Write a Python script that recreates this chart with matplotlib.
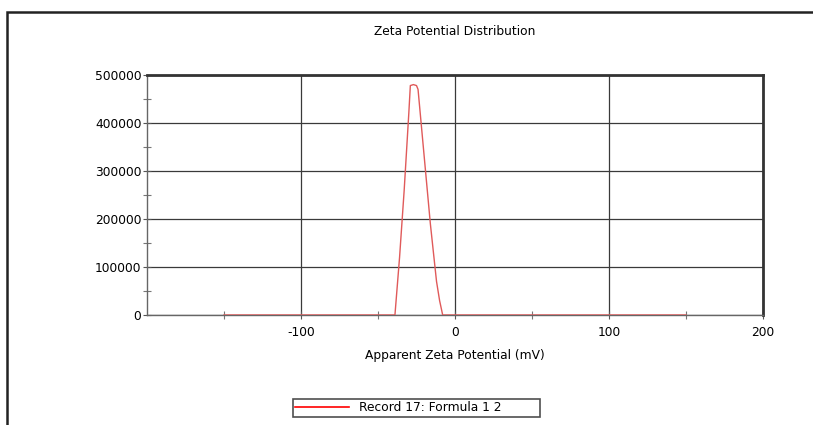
import matplotlib
matplotlib.use('Agg')
import matplotlib.pyplot as plt
from matplotlib.patches import Rectangle

plt.rcParams['font.family'] = ['DejaVu Sans']

# apparent zeta potential (mV) vs intensity
zeta = [-150, -39, -36, -33, -30, -29, -27, -25, -24, -20, -16, -12, -10, -8, 150]
counts = [0, 0, 120000, 260000, 420000, 478000, 480000, 478000, 470000,
          330000, 190000, 70000, 30000, 0, 0]

x_ticks = [-100, 0, 100, 200]
x_minor = [-150, -50, 50, 150]
y_ticks = [0, 100000, 200000, 300000, 400000, 500000]
y_minor = [50000, 150000, 250000, 350000, 450000]

fs = 8.8

fig = plt.figure(figsize=(8.13, 4.25), dpi=100)
ax = fig.add_axes([147 / 813, 1 - 315 / 425, (763 - 147) / 813, (315 - 75) / 425])

ax.plot(zeta, counts, color='#e05a5a', linewidth=1.0, label='Record 17: Formula 1 2', zorder=3)

ax.set_xlim(-200, 200)
ax.set_ylim(0, 500000)
ax.set_xticks(x_ticks)
ax.set_xticks(x_minor, minor=True)
ax.set_yticks(y_ticks)
ax.set_yticks(y_minor, minor=True)
ax.set_xticklabels(['-100', '0', '100', '200'])
ax.set_yticklabels([str(v) for v in y_ticks])
ax.grid(True, which='major', color='#3a3a3a', linewidth=0.9)
ax.tick_params(axis='both', which='major', direction='inout', length=6, width=0.8,
               color='#555555', labelsize=fs)
ax.tick_params(axis='x', which='major', pad=5)
ax.tick_params(axis='y', which='major', pad=1)
ax.tick_params(axis='both', which='minor', direction='inout', length=6, width=0.8,
               color='#777777')

for side in ['top', 'right']:
    ax.spines[side].set_linewidth(2.0)
    ax.spines[side].set_color('#333333')
for side in ['left', 'bottom']:
    ax.spines[side].set_linewidth(1.0)
    ax.spines[side].set_color('#666666')

ax.set_title('Zeta Potential Distribution', fontsize=fs, pad=29)
ax.set_xlabel('Apparent Zeta Potential (mV)', fontsize=fs, labelpad=7)

leg = ax.legend(loc='upper left', bbox_to_anchor=(293 / 813, 0, 247 / 813, 1 - 399 / 425),
                bbox_transform=fig.transFigure, mode='expand', fontsize=fs, frameon=True,
                fancybox=False, handlelength=4.4, handletextpad=0.8,
                borderpad=0.2, borderaxespad=0)
leg.get_frame().set_edgecolor('#222222')
leg.get_frame().set_linewidth(1.2)
leg.get_lines()[0].set_color('red')
leg.get_lines()[0].set_linewidth(1.2)

# outer frame of the report panel
fig.patches.append(Rectangle((7 / 813, -0.1), 1.0, 1 - 12 / 425 + 0.1,
                             transform=fig.transFigure, fill=False,
                             edgecolor='#222222', linewidth=1.8))

fig.savefig('out.png', dpi=100)
